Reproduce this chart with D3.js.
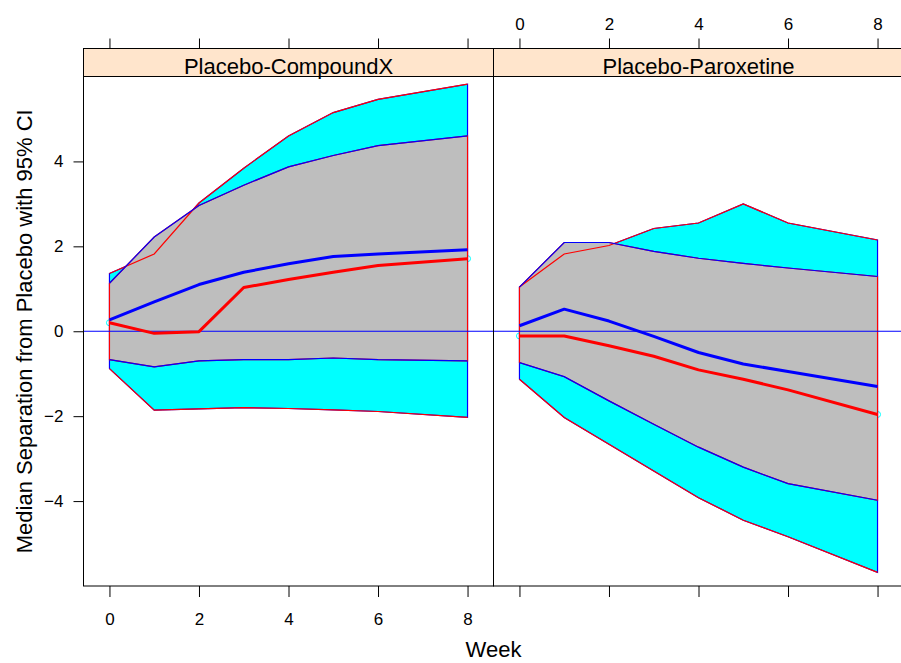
<!DOCTYPE html>
<html>
<head>
<meta charset="utf-8">
<script src="https://cdn.jsdelivr.net/npm/d3@7"></script>
<style>
  body { margin: 0; background: #fff; }
  svg { display: block; font-family: "Liberation Sans", Arial, Helvetica, sans-serif; }
</style>
</head>
<body>
<div id="chart"></div>
<script>
// weeks observed in both panels (no week 7)
var weeks = [0, 1, 2, 3, 4, 5, 6, 8];
var panelNames = ["Placebo-CompoundX", "Placebo-Paroxetine"];
var xTicks = [0, 2, 4, 6, 8];
var yTicks = [-4, -2, 0, 2, 4];

// Placebo-CompoundX
var cxOuterUpper = [1.36, 1.82, 3.02, 3.84, 4.60, 5.15, 5.46, 5.82];
var cxOuterLower = [-0.88, -1.86, -1.83, -1.80, -1.82, -1.85, -1.89, -2.03];
var cxInnerUpper = [1.13, 2.22, 2.96, 3.44, 3.87, 4.14, 4.37, 4.60];
var cxInnerLower = [-0.67, -0.84, -0.70, -0.67, -0.67, -0.63, -0.67, -0.70];
var cxBlueMedian = [0.27, 0.69, 1.10, 1.39, 1.59, 1.76, 1.82, 1.92];
var cxRedMedian = [0.20, -0.05, -0.01, 1.03, 1.22, 1.39, 1.55, 1.71];

// Placebo-Paroxetine
var pxOuterUpper = [1.04, 1.82, 2.02, 2.42, 2.55, 3.00, 2.55, 2.15];
var pxOuterLower = [-1.13, -2.03, -2.66, -3.29, -3.92, -4.45, -4.84, -5.68];
var pxInnerUpper = [1.04, 2.09, 2.09, 1.88, 1.72, 1.60, 1.49, 1.29];
var pxInnerLower = [-0.74, -1.07, -1.64, -2.19, -2.73, -3.20, -3.59, -3.98];
var pxBlueMedian = [0.13, 0.52, 0.24, -0.12, -0.50, -0.77, -0.95, -1.30];
var pxRedMedian = [-0.11, -0.11, -0.34, -0.59, -0.91, -1.13, -1.38, -1.96];

var panels = [
    {name: panelNames[0], outerUp: cxOuterUpper, outerLo: cxOuterLower, innerUp: cxInnerUpper,
     innerLo: cxInnerLower, blue: cxBlueMedian, red: cxRedMedian},
    {name: panelNames[1], outerUp: pxOuterUpper, outerLo: pxOuterLower, innerUp: pxInnerUpper,
     innerLo: pxInnerLower, blue: pxBlueMedian, red: pxRedMedian}
];

var width = 901, height = 663;
var marginLeft = 83.5, panelW = 410, stripTop = 48.5, stripH = 28, plotBottom = 586;
var plotTop = stripTop + stripH;

var svg = d3.select("#chart").append("svg")
    .attr("width", width)
    .attr("height", height);

var y = d3.scaleLinear()
    .domain([-6, 6])
    .range([plotBottom, plotTop]);

panels.forEach(function (p, i) {
    var x0 = marginLeft + i * panelW;
    var x = d3.scaleLinear()
        .domain([-0.58, 8.58])
        .range([x0, x0 + panelW]);

    var g = svg.append("g");

    var band = function (up, lo) {
        var pts = weeks.map(function (w, k) { return [x(w), y(up[k])]; });
        var back = weeks.map(function (w, k) { return [x(w), y(lo[k])]; }).reverse();
        return "M" + pts.concat(back).join("L") + "Z";
    };
    var line = d3.line()
        .x(function (d) { return x(d[0]); })
        .y(function (d) { return y(d[1]); });
    var pairs = function (vals) {
        return weeks.map(function (w, k) { return [w, vals[k]]; });
    };

    // end markers of the red median, under the bands
    g.selectAll("circle")
        .data([0, weeks.length - 1])
        .enter().append("circle")
        .attr("cx", function (k) { return x(weeks[k]); })
        .attr("cy", function (k) { return y(p.red[k]); })
        .attr("r", 3)
        .attr("fill", "none")
        .attr("stroke", "#00ffff")
        .attr("stroke-width", 1);

    g.append("path")
        .attr("d", band(p.outerUp, p.outerLo))
        .attr("fill", "#00ffff")
        .attr("stroke", "#0000ff")
        .attr("stroke-width", 1.2);

    g.append("path")
        .attr("d", band(p.innerUp, p.innerLo))
        .attr("fill", "#bebebe")
        .attr("stroke", "#ff0000")
        .attr("stroke-width", 1.2);

    [[p.outerUp, "#ff0000"], [p.outerLo, "#ff0000"], [p.innerUp, "#0000ff"], [p.innerLo, "#0000ff"]]
        .forEach(function (s) {
            g.append("path")
                .attr("d", line(pairs(s[0])))
                .attr("fill", "none")
                .attr("stroke", s[1])
                .attr("stroke-width", 1.2);
        });

    // zero reference line
    g.append("line")
        .attr("x1", x0).attr("x2", x0 + panelW)
        .attr("y1", y(0)).attr("y2", y(0))
        .attr("stroke", "#0000ff")
        .attr("stroke-width", 1.2);

    g.append("path")
        .attr("d", line(pairs(p.blue)))
        .attr("fill", "none")
        .attr("stroke", "#0000ff")
        .attr("stroke-width", 3)
        .attr("stroke-linejoin", "round");

    g.append("path")
        .attr("d", line(pairs(p.red)))
        .attr("fill", "none")
        .attr("stroke", "#ff0000")
        .attr("stroke-width", 3)
        .attr("stroke-linejoin", "round");

    // panel border
    g.append("rect")
        .attr("x", x0).attr("y", plotTop)
        .attr("width", panelW).attr("height", plotBottom - plotTop)
        .attr("fill", "none")
        .attr("stroke", "#000");

    // strip
    g.append("rect")
        .attr("x", x0).attr("y", stripTop)
        .attr("width", panelW).attr("height", stripH)
        .attr("fill", "#ffe5cc")
        .attr("stroke", "#000");
    g.append("text")
        .attr("x", x0 + panelW / 2)
        .attr("y", stripTop + 25)
        .attr("text-anchor", "middle")
        .style("font-size", "22px")
        .text(p.name);

    // lattice alternates labels: bottom on first panel, top on second
    var bottomAxis = svg.append("g")
        .attr("transform", "translate(0," + plotBottom + ")")
        .call(d3.axisBottom(x).tickValues(xTicks).tickSize(11).tickPadding(16)
            .tickFormat(i === 0 ? d3.format("d") : function () { return ""; }));
    var topAxis = svg.append("g")
        .attr("transform", "translate(0," + stripTop + ")")
        .call(d3.axisTop(x).tickValues(xTicks).tickSize(10).tickPadding(9)
            .tickFormat(i === 1 ? d3.format("d") : function () { return ""; }));
    [bottomAxis, topAxis].forEach(function (a) {
        a.select(".domain").remove();
        a.selectAll("line").attr("stroke", "#000");
        a.selectAll("text").style("font-size", "17px").attr("fill", "#000")
            .style("font-family", "'Liberation Sans', Arial, sans-serif");
    });
});

// y axis on the left panel only
var yAxis = svg.append("g")
    .attr("transform", "translate(" + marginLeft + ",0)")
    .call(d3.axisLeft(y).tickValues(yTicks).tickSize(10).tickPadding(10));
yAxis.select(".domain").remove();
yAxis.selectAll("line").attr("stroke", "#000");
yAxis.selectAll("text").style("font-size", "17px").attr("fill", "#000")
    .style("font-family", "'Liberation Sans', Arial, sans-serif");

svg.append("text")
    .attr("transform", "translate(32," + ((plotTop + plotBottom) / 2) + ") rotate(-90)")
    .attr("text-anchor", "middle")
    .style("font-size", "22px")
    .text("Median Separation from Placebo with 95% CI");

svg.append("text")
    .attr("x", marginLeft + panelW)
    .attr("y", 657)
    .attr("text-anchor", "middle")
    .style("font-size", "22px")
    .text("Week");
</script>
</body>
</html>
